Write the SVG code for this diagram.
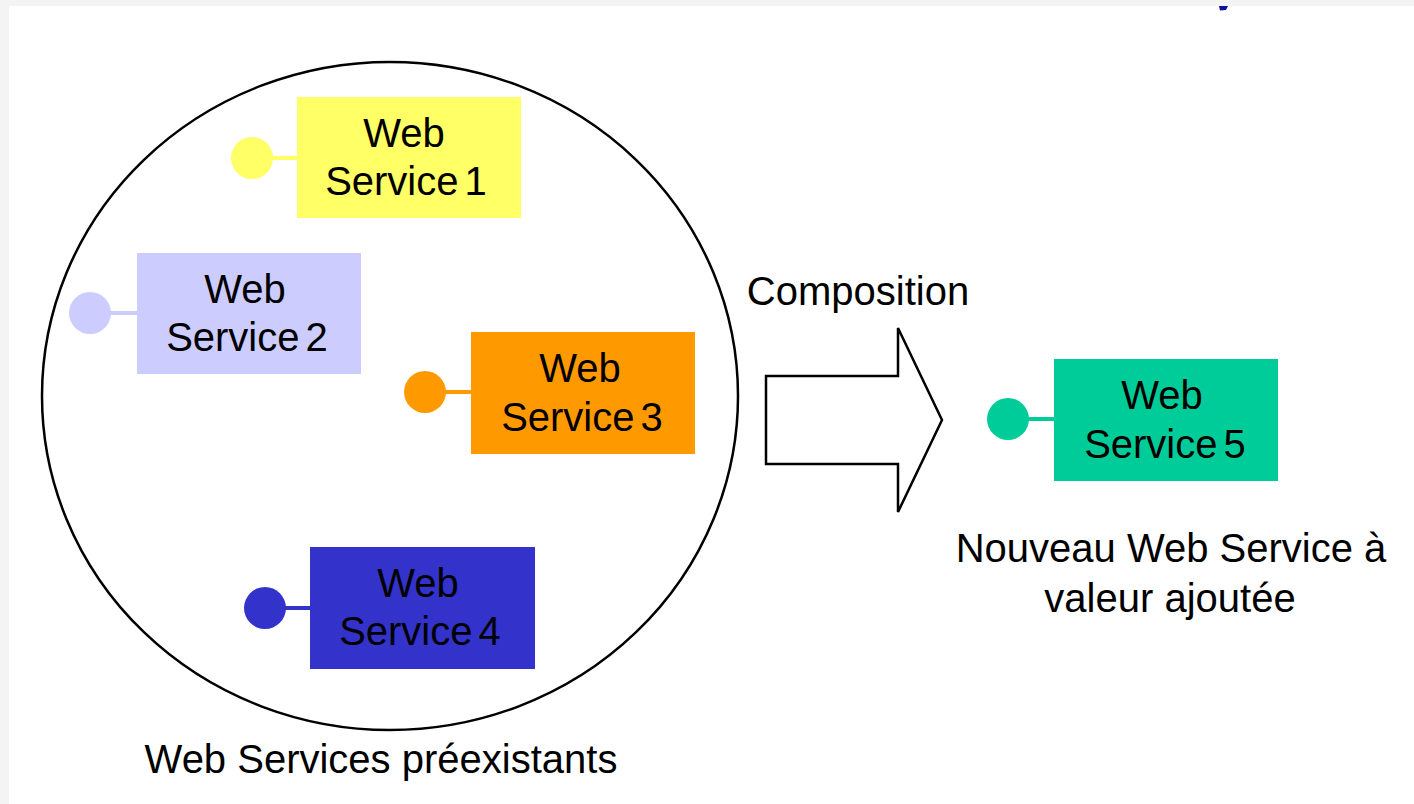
<svg xmlns="http://www.w3.org/2000/svg" width="1414" height="804" viewBox="0 0 1414 804">
  <style>
    .t { font-family: "Liberation Sans", Arial, sans-serif; font-size: 40px; fill: #000; text-anchor: middle; }
    .box { word-spacing: -5px; }
    .outline { fill: none; stroke: #000; stroke-width: 2.5; }
    .link { stroke-width: 4; }
  </style>
  <rect x="0" y="0" width="1414" height="804" fill="#f4f4f4"/>
  <rect x="9" y="6" width="1405" height="798" fill="#ffffff"/>
  <path d="M1219,6 L1228,6 L1226,10 L1220,10.5 Z" fill="#1010a0"/>

  <g id="pool">
    <ellipse class="outline" cx="390" cy="396" rx="348" ry="334"/>
    <text class="t" x="381" y="773">Web Services préexistants</text>
  </g>

  <g id="ws1">
    <line class="link" x1="260" y1="158" x2="298" y2="158" stroke="#ffff66"/>
    <circle cx="252" cy="158" r="21" fill="#ffff66"/>
    <rect x="297" y="97" width="224" height="121" fill="#ffff66"/>
    <text class="t box" x="404" y="147">Web</text>
    <text class="t box" x="406" y="195">Service 1</text>
  </g>

  <g id="ws2">
    <line class="link" x1="98" y1="313" x2="138" y2="313" stroke="#ccccff"/>
    <circle cx="90" cy="313" r="21" fill="#ccccff"/>
    <rect x="137" y="253" width="224" height="121" fill="#ccccff"/>
    <text class="t box" x="245" y="303">Web</text>
    <text class="t box" x="247" y="351">Service 2</text>
  </g>

  <g id="ws3">
    <line class="link" x1="433" y1="392" x2="472" y2="392" stroke="#ff9900"/>
    <circle cx="425" cy="392" r="21" fill="#ff9900"/>
    <rect x="471" y="332" width="224" height="122" fill="#ff9900"/>
    <text class="t box" x="580" y="382">Web</text>
    <text class="t box" x="582" y="431">Service 3</text>
  </g>

  <g id="ws4">
    <line class="link" x1="273" y1="608" x2="311" y2="608" stroke="#3333cc"/>
    <circle cx="265" cy="608" r="21" fill="#3333cc"/>
    <rect x="310" y="547" width="225" height="122" fill="#3333cc"/>
    <text class="t box" x="418" y="597">Web</text>
    <text class="t box" x="420" y="645">Service 4</text>
  </g>

  <g id="ws5">
    <line class="link" x1="1016" y1="419" x2="1055" y2="419" stroke="#00cc99"/>
    <circle cx="1008" cy="419" r="21" fill="#00cc99"/>
    <rect x="1054" y="359" width="224" height="122" fill="#00cc99"/>
    <text class="t box" x="1162" y="409">Web</text>
    <text class="t box" x="1165" y="458">Service 5</text>
    <text class="t" x="1171" y="562">Nouveau Web Service à</text>
    <text class="t" x="1170" y="612">valeur ajoutée</text>
  </g>

  <g id="connectors">
    <polygon class="outline" points="766,376 898,376 898,328 942,420 898,512 898,464 766,464" fill="#ffffff"/>
    <text class="t" x="858" y="305">Composition</text>
  </g>
</svg>
